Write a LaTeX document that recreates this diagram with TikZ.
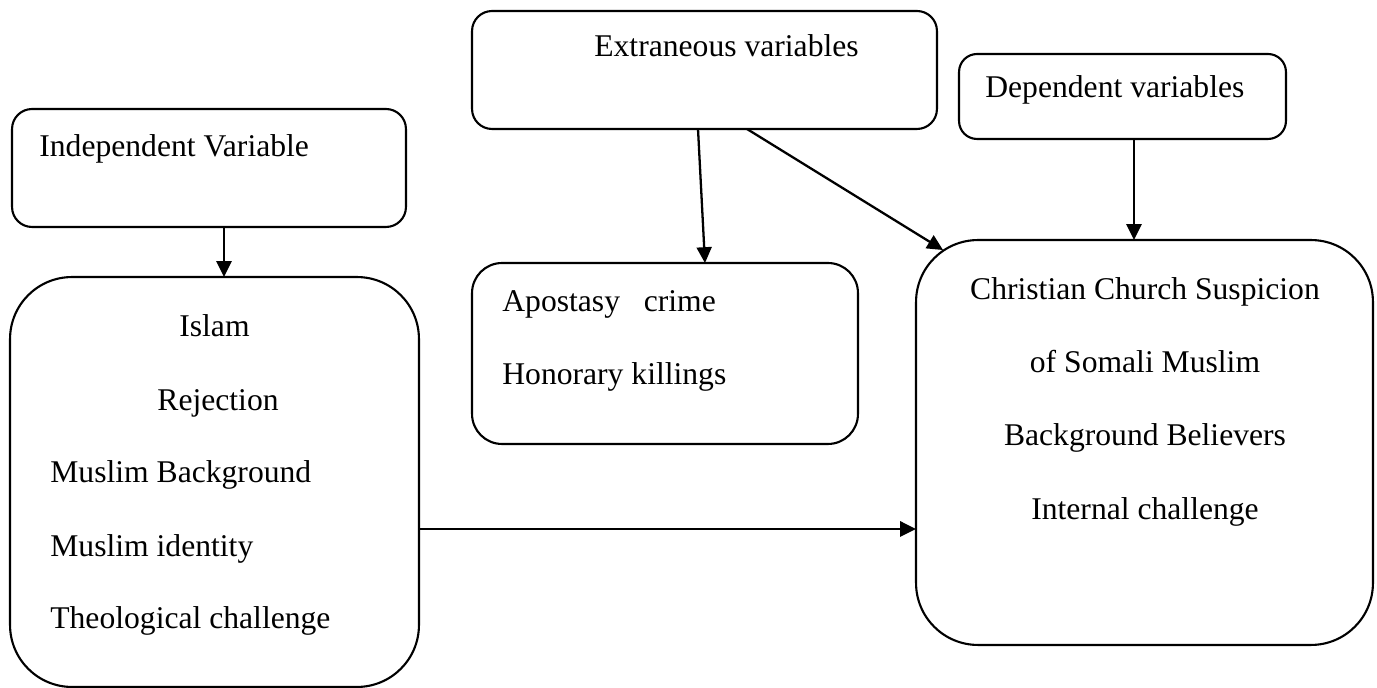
\documentclass[tikz,border=0pt]{standalone}
\usepackage{fontspec}
\setmainfont{Liberation Serif}
\usetikzlibrary{arrows.meta}
\begin{document}
\begin{tikzpicture}[x=0.02cm, y=-0.02cm]
	\tikzstyle{box} = [draw=black, line width=1.2pt, inner sep=0pt, outer sep=0pt]
	\tikzstyle{txt} = [inner sep=0pt, font=\fontsize{18}{22}\selectfont]
	\tikzstyle{arr} = [line width=1.3pt, -{Triangle[length=9pt, width=8.5pt]}]

	\useasboundingbox (0,0) rectangle (1377,688);

	\foreach \name/\x/\y/\w/\h/\r in {indep/209/168/7.88/2.36/0.4, islam/214.5/482/8.18/8.2/1.24,
		extra/704.5/70/9.3/2.36/0.4, dep/1122.5/96.5/6.54/1.7/0.36,
		apost/665/353.5/7.72/3.62/0.6, church/1144.5/442.5/9.14/8.1/1.24}
		\node[box, minimum width=\w cm, minimum height=\h cm, rounded corners=\r cm] (\name) at (\x, \y) {};

	\foreach \name/\x/\y/\t in {indeptxt/39/157/Independent Variable, extratxt/594/57/Extraneous variables,
		deptxt/985/98/Dependent variables, islam3/50/483/Muslim Background, islam4/50/557/Muslim identity,
		islam5/50/629/Theological challenge, apost1/502/312/{Apostasy\ \ \ crime}, apost2/502/385/Honorary killings}
		\node[txt, anchor=base west] (\name) at (\x, \y) {\t};

	\foreach \name/\x/\y/\t in {islam1/214.5/337/Islam, islam2/218/411/Rejection,
		church1/1145/300/Christian Church Suspicion, church2/1145/373/of Somali Muslim,
		church3/1145/446/Background Believers, church4/1145/520/Internal challenge}
		\node[txt, anchor=base] (\name) at (\x, \y) {\t};

	\draw[arr] ([xshift=0.3cm]indep.south) -- ([xshift=0.3cm]indep.south |- islam.north);
	\draw[arr] ([xshift=-0.13cm]extra.south) -- ([xshift=0.8cm]apost.north);
	\draw[arr] ([xshift=0.85cm]extra.south) -- ([shift={(0.54cm,-0.2cm)}]church.north west);
	\draw[arr] ([xshift=0.23cm]dep.south) -- ([xshift=0.23cm]dep.south |- church.north);
	\draw[arr, line width=1.6pt] ([yshift=-0.94cm]islam.east) -- ([yshift=-0.94cm]islam.east -| church.west);
\end{tikzpicture}
\end{document}
